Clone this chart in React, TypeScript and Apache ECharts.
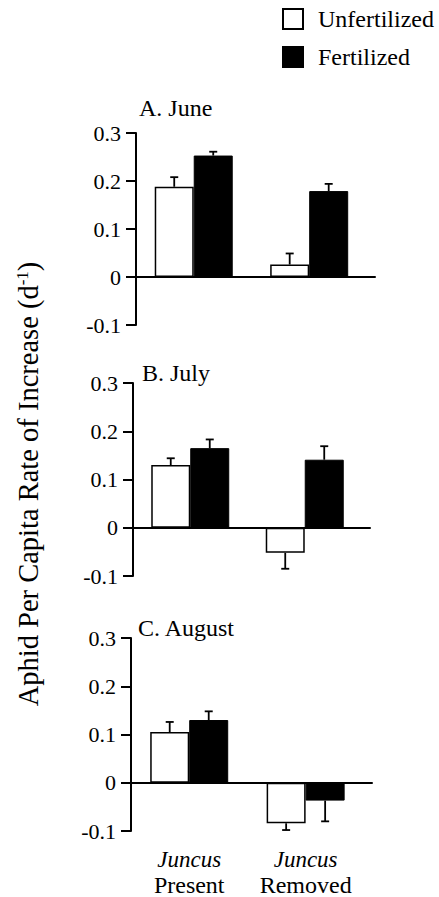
import React, { useEffect, useRef } from "react";
import * as echarts from "echarts";

// Groups (Juncus treatment) and their positions on the x axis
const groups = ["Present", "Removed"];
const groupPos = [0, 1];
const panelTitles = ["A. June", "B. July", "C. August"];
const seriesNames = ["Unfertilized", "Fertilized"];
const yTicks = [-0.1, 0, 0.1, 0.2, 0.3];

// June
const juneUnfert = [0.188, 0.026];
const juneUnfertErr = [0.02, 0.023];
const juneFert = [0.253, 0.179];
const juneFertErr = [0.008, 0.015];
// July
const julyUnfert = [0.13, -0.052];
const julyUnfertErr = [0.014, 0.033];
const julyFert = [0.165, 0.141];
const julyFertErr = [0.018, 0.028];
// August
const augUnfert = [0.105, -0.084];
const augUnfertErr = [0.021, 0.014];
const augFert = [0.13, -0.037];
const augFertErr = [0.018, 0.043];

const panels = [
  { unfert: juneUnfert, unfertErr: juneUnfertErr, fert: juneFert, fertErr: juneFertErr },
  { unfert: julyUnfert, unfertErr: julyUnfertErr, fert: julyFert, fertErr: julyFertErr },
  { unfert: augUnfert, unfertErr: augUnfertErr, fert: augFert, fertErr: augFertErr },
];

const FONT = "'Liberation Serif', 'DejaVu Serif', serif";
const BAR_W = 39;
const gridsLayout = [
  { left: 136, top: 133, width: 239, height: 192 },
  { left: 133, top: 383, width: 237, height: 193 },
  { left: 131, top: 638, width: 241, height: 193 },
];
const titleLayout = [
  { left: 139, top: 96 },
  { left: 142, top: 361 },
  { left: 138, top: 616 },
];
const X_MIN = -0.5;
const X_MAX = 1.57;

function errorSeries(values: number[], errs: number[], gi: number, offset: number) {
  return {
    type: "custom",
    name: "err" + gi + "_" + offset,
    xAxisIndex: gi,
    yAxisIndex: gi,
    z: 5,
    data: values.map((v, i) => [groupPos[i], v, errs[i]]),
    encode: { x: 0, y: 1 },
    renderItem: (params: any, api: any) => {
      const x = api.value(0);
      const v = api.value(1);
      const e = api.value(2);
      const end = v >= 0 ? v + e : v - e;
      const p0 = api.coord([x, v]);
      const p1 = api.coord([x, end]);
      const cx = p0[0] + offset;
      const st = { stroke: "#000", lineWidth: 1.8 };
      return {
        type: "group",
        children: [
          { type: "line", shape: { x1: cx, y1: p0[1], x2: cx, y2: p1[1] }, style: st },
          { type: "line", shape: { x1: cx - 4, y1: p1[1], x2: cx + 4, y2: p1[1] }, style: st },
        ],
      };
    },
  };
}

export default function App() {
  const ref = useRef<HTMLDivElement>(null);
  useEffect(() => {
    if (!ref.current) return;
    const chart = echarts.init(ref.current, null, { renderer: "svg" });
    const series: any[] = [];
    panels.forEach((p, gi) => {
      series.push({
        type: "bar",
        name: seriesNames[0],
        xAxisIndex: gi,
        yAxisIndex: gi,
        barWidth: BAR_W,
        barGap: "0%",
        data: p.unfert.map((v, i) => [groupPos[i], v]),
        itemStyle: { color: "#fff", borderColor: "#000", borderWidth: 1.5 },
      });
      series.push({
        type: "bar",
        name: seriesNames[1],
        xAxisIndex: gi,
        yAxisIndex: gi,
        barWidth: BAR_W,
        barGap: "0%",
        data: p.fert.map((v, i) => [groupPos[i], v]),
        itemStyle: { color: "#000", borderColor: "#000", borderWidth: 1 },
      });
      series.push(errorSeries(p.unfert, p.unfertErr, gi, -BAR_W / 2));
      series.push(errorSeries(p.fert, p.fertErr, gi, BAR_W / 2));
    });

    const xAxes: any[] = gridsLayout.map((_, gi) => ({
      type: "value",
      gridIndex: gi,
      min: X_MIN,
      max: X_MAX,
      position: "bottom",
      axisLine: { show: true, onZero: true, lineStyle: { color: "#000", width: 2 } },
      axisTick: { show: false },
      axisLabel: { show: false },
      splitLine: { show: false },
    }));
    xAxes.push({
      type: "value",
      gridIndex: 2,
      min: X_MIN,
      max: X_MAX,
      position: "bottom",
      axisLine: { show: false, onZero: false },
      axisTick: { show: false },
      splitLine: { show: false },
      axisLabel: {
        show: true,
        customValues: groupPos,
        margin: 16,
        formatter: (v: number) => `{it|Juncus}\n{rm|${groups[Math.round(v)]}}`,
        rich: {
          it: { fontFamily: FONT, fontStyle: "italic", fontSize: 23, color: "#000", lineHeight: 25 },
          rm: { fontFamily: FONT, fontSize: 24, color: "#000", lineHeight: 25 },
        },
      },
    });

    const yAxes = gridsLayout.map((_, gi) => ({
      type: "value",
      gridIndex: gi,
      min: yTicks[0],
      max: yTicks[yTicks.length - 1],
      interval: 0.1,
      position: "left",
      axisLine: { show: true, onZero: false, lineStyle: { color: "#000", width: 2 } },
      axisTick: { show: true, length: 10, lineStyle: { color: "#000", width: 2 } },
      splitLine: { show: false },
      axisLabel: {
        color: "#000",
        fontFamily: FONT,
        fontSize: 22,
        margin: 15,
        formatter: (v: number) => {
          const r = Math.round(v * 10) / 10;
          return r === 0 ? "0" : r.toFixed(1);
        },
      },
    }));

    chart.setOption({
      animation: false,
      backgroundColor: "#fff",
      textStyle: { fontFamily: FONT },
      title: panelTitles.map((t, i) => ({
        text: t,
        left: titleLayout[i].left,
        top: titleLayout[i].top,
        padding: 0,
        textStyle: { fontFamily: FONT, fontSize: 24, fontWeight: "normal", color: "#000" },
      })),
      legend: {
        data: seriesNames.map((n) => ({ name: n, icon: "rect" })),
        orient: "vertical",
        left: 282,
        top: 7,
        padding: 0,
        itemWidth: 20,
        itemHeight: 20,
        itemGap: 14,
        selectedMode: false,
        textStyle: { fontFamily: FONT, fontSize: 24, color: "#000", lineHeight: 24, padding: [0, 0, 0, 10] },
      },
      grid: gridsLayout.map((g) => ({ ...g })),
      xAxis: xAxes,
      yAxis: yAxes,
      graphic: [
        {
          type: "text",
          x: 28,
          y: 484,
          rotation: Math.PI / 2,
          style: {
            text: "Aphid Per Capita Rate of Increase (d{sup|-1})",
            fontFamily: FONT,
            fontSize: 28.5,
            fill: "#000",
            align: "center",
            verticalAlign: "middle",
            rich: {
              sup: { fontFamily: FONT, fontSize: 17, fill: "#000", verticalAlign: "top", padding: [0, 0, 10, 0] },
            },
          },
        },
      ],
      series,
    });
    return () => chart.dispose();
  }, []);
  return (
    <div
      ref={ref}
      style={{ position: "fixed", left: 0, top: 0, width: 439, height: 897, background: "#fff" }}
    />
  );
}
